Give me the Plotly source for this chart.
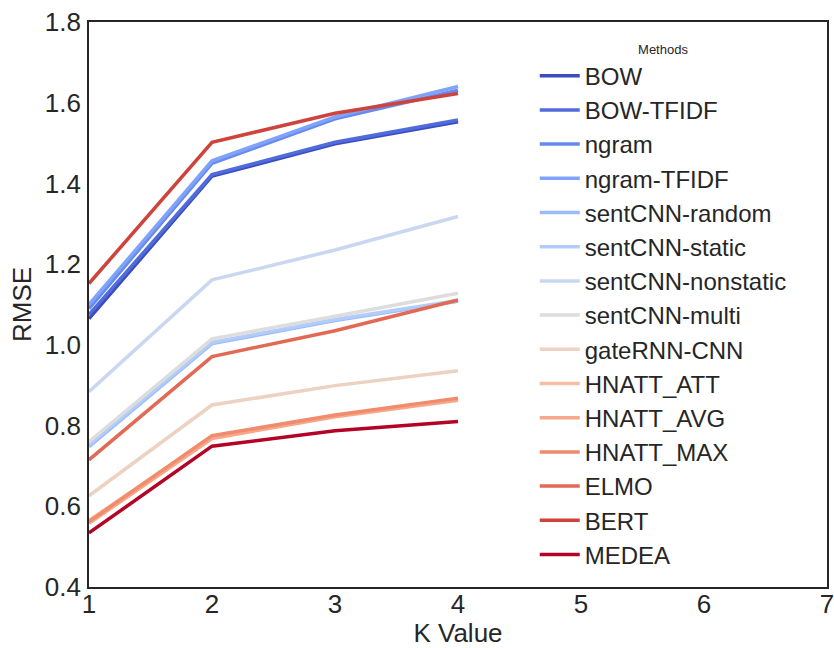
import plotly.graph_objects as go

k_values = [1, 2, 3, 4]

methods = ["BOW", "BOW-TFIDF", "ngram", "ngram-TFIDF", "sentCNN-random",
           "sentCNN-static", "sentCNN-nonstatic", "sentCNN-multi", "gateRNN-CNN",
           "HNATT_ATT", "HNATT_AVG", "HNATT_MAX", "ELMO", "BERT", "MEDEA"]

bow = [1.065, 1.418, 1.498, 1.553]
bow_tfidf = [1.075, 1.422, 1.502, 1.557]
ngram = [1.09, 1.450, 1.560, 1.631]
ngram_tfidf = [1.10, 1.456, 1.565, 1.640]
sentcnn_random = [0.748, 1.003, 1.060, 1.108]
sentcnn_static = [0.752, 1.006, 1.063, 1.110]
sentcnn_nonstatic = [0.884, 1.161, 1.235, 1.318]
sentcnn_multi = [0.760, 1.015, 1.071, 1.128]
gaternn_cnn = [0.626, 0.851, 0.899, 0.936]
hnatt_att = [0.565, 0.772, 0.824, 0.865]
hnatt_avg = [0.558, 0.768, 0.822, 0.863]
hnatt_max = [0.562, 0.775, 0.826, 0.868]
elmo = [0.715, 0.971, 1.035, 1.111]
bert = [1.152, 1.502, 1.574, 1.623]
medea = [0.534, 0.749, 0.787, 0.810]

series = [bow, bow_tfidf, ngram, ngram_tfidf, sentcnn_random, sentcnn_static,
          sentcnn_nonstatic, sentcnn_multi, gaternn_cnn, hnatt_att, hnatt_avg,
          hnatt_max, elmo, bert, medea]

colors = ["rgb(59,76,192)", "rgb(80,108,218)", "rgb(104,137,238)", "rgb(128,163,250)",
          "rgb(154,186,255)", "rgb(178,204,251)", "rgb(201,216,240)", "rgb(221,221,221)",
          "rgb(237,209,193)", "rgb(246,191,165)", "rgb(247,168,137)", "rgb(240,139,109)",
          "rgb(226,105,83)", "rgb(206,67,59)", "rgb(180,4,38)"]

x_ticks = [1, 2, 3, 4, 5, 6, 7]
y_ticks = [0.4, 0.6, 0.8, 1.0, 1.2, 1.4, 1.6, 1.8]

FONT = "Liberation Sans, Arial, sans-serif"
TXT = "#262626"

fig = go.Figure()
for name, vals, col in zip(methods, series, colors):
    fig.add_trace(go.Scatter(x=k_values, y=vals, mode="lines", name=name,
                             line=dict(color=col, width=3.5)))

fig.update_layout(
    width=834, height=648,
    margin=dict(l=89, r=7, t=22, b=61),
    paper_bgcolor="white", plot_bgcolor="white",
    font=dict(family=FONT, color=TXT, size=26),
    legend=dict(
        x=0.604, y=0.974, xanchor="left", yanchor="top",
        bgcolor="rgba(0,0,0,0)", borderwidth=0,
        font=dict(size=24, color=TXT),
        title=dict(text="Methods", side="top center", font=dict(size=13, color=TXT)),
        itemwidth=40,
    ),
    xaxis=dict(range=[1, 7], tickvals=x_ticks, ticktext=[str(v) for v in x_ticks],
               showgrid=False, zeroline=False, showline=True, mirror=True,
               automargin=False, ticklabeloverflow="allow",
               linecolor=TXT, linewidth=1.7, ticks="", tickfont=dict(size=26),
               ticklabelstandoff=-7,
               title=dict(text="K Value", font=dict(size=26), standoff=22)),
    yaxis=dict(range=[0.4, 1.8], tickvals=y_ticks, ticktext=[f"{v:.1f}" for v in y_ticks],
               showgrid=False, zeroline=False, showline=True, mirror=True,
               automargin=False, ticklabeloverflow="allow",
               linecolor=TXT, linewidth=1.7, ticks="", tickfont=dict(size=26),
               ticklabelstandoff=1,
               title=dict(text="RMSE", font=dict(size=26), standoff=6)),
)

fig.write_html("out.html", config={"displayModeBar": False},
               post_script="document.body.style.margin='0';")
